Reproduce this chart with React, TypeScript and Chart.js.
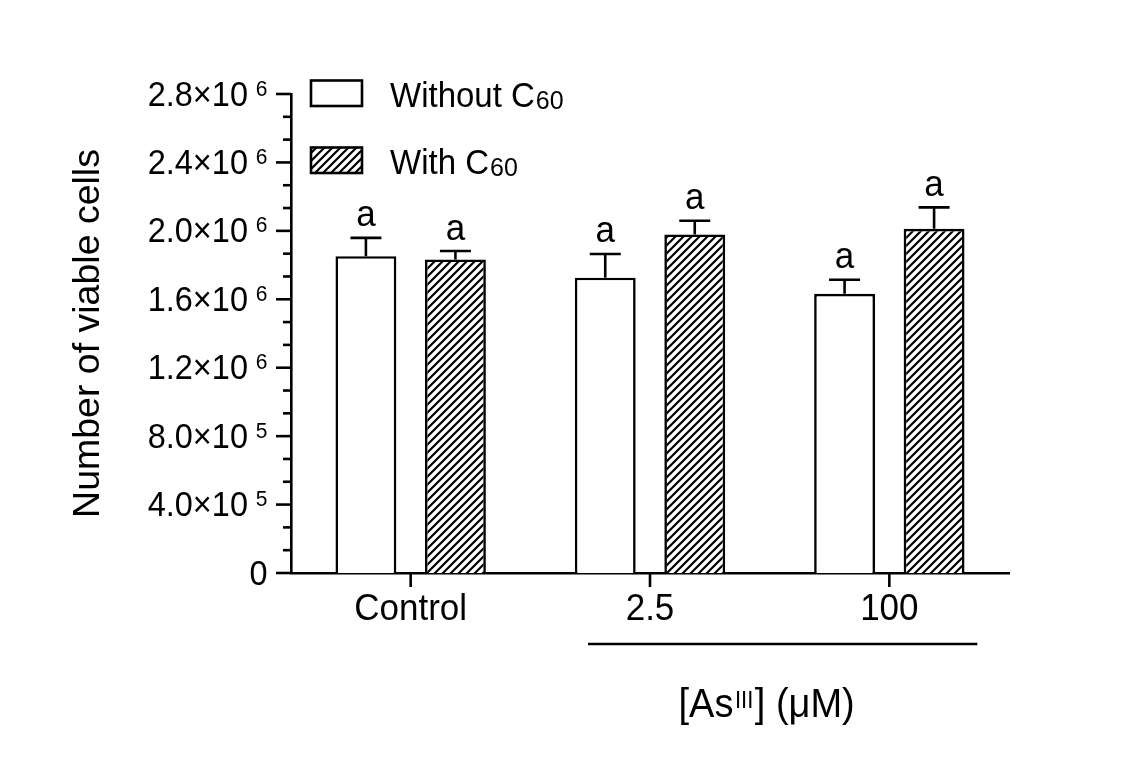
import React, { useEffect, useRef } from 'react';
import { Chart, registerables } from 'chart.js';

Chart.register(...registerables);

const categories = ['Control', '2.5', '100'];
const withoutC60 = [1.852e6, 1.726e6, 1.632e6];
const withoutC60Err = [1.07e5, 1.39e5, 0.82e5];
const withC60 = [1.833e6, 1.979e6, 2.012e6];
const withC60Err = [0.49e5, 0.8e5, 1.25e5];
const sigWithout = ['a', 'a', 'a'];
const sigWith = ['a', 'a', 'a'];
const seriesNames = ['Without C', 'With C'];
const seriesSubs = ['60', '60'];
const yMajorTicks = [0, 4e5, 8e5, 1.2e6, 1.6e6, 2.0e6, 2.4e6, 2.8e6];
const yTickMantissa = ['0', '4.0×10', '8.0×10', '1.2×10', '1.6×10', '2.0×10', '2.4×10', '2.8×10'];
const yTickExponent = ['', '5', '5', '6', '6', '6', '6', '6'];
const yMinorDivisions = 3;
const yTitle = 'Number of viable cells';
const xTitleMain = '[As';
const xTitleSup = 'III';
const xTitleTail = '] (μM)';

const FONT = '"Liberation Sans", Arial, sans-serif';

function makeHatch(): CanvasPattern | string {
  const c = document.createElement('canvas');
  const s = 8;
  c.width = s;
  c.height = s;
  const g = c.getContext('2d');
  if (!g) return '#fff';
  g.fillStyle = '#fff';
  g.fillRect(0, 0, s, s);
  g.strokeStyle = '#000';
  g.lineWidth = 2.2;
  g.beginPath();
  g.moveTo(-2, 2); g.lineTo(2, -2);
  g.moveTo(0, s); g.lineTo(s, 0);
  g.moveTo(s - 2, s + 2); g.lineTo(s + 2, s - 2);
  g.stroke();
  const p = g.createPattern(c, 'repeat');
  return p || '#fff';
}

// draw text with slight vertical stretch to mimic the reference glyph proportions
function stretchText(ctx: CanvasRenderingContext2D, text: string, x: number, y: number, sy: number) {
  ctx.save();
  ctx.translate(x, y);
  ctx.scale(1, sy);
  ctx.fillText(text, 0, 0);
  ctx.restore();
}

export default function App() {
  const ref = useRef<HTMLCanvasElement | null>(null);

  useEffect(() => {
    if (!ref.current) return;
    const hatch = makeHatch();

    const errs = [withoutC60Err, withC60Err];
    const sigs = [sigWithout, sigWith];
    const SY = 1.06;

    const decor = {
      id: 'decor',
      afterDatasetsDraw(chart: any) {
        const ctx = chart.ctx;
        const y = chart.scales.y;
        ctx.save();
        ctx.strokeStyle = '#000';
        ctx.fillStyle = '#000';
        ctx.lineWidth = 2.6;
        chart.data.datasets.forEach((ds: any, di: number) => {
          const meta = chart.getDatasetMeta(di);
          meta.data.forEach((bar: any, i: number) => {
            const v = ds.data[i];
            const top = y.getPixelForValue(v + errs[di][i]);
            const x = bar.x;
            ctx.beginPath();
            ctx.moveTo(x, bar.y);
            ctx.lineTo(x, top);
            ctx.moveTo(x - 15.5, top);
            ctx.lineTo(x + 15.5, top);
            ctx.stroke();
            ctx.font = `35px ${FONT}`;
            ctx.textAlign = 'center';
            ctx.textBaseline = 'alphabetic';
            stretchText(ctx, sigs[di][i], x, top - 11.5, SY);
          });
        });
        ctx.restore();
      },
      afterDraw(chart: any) {
        const ctx = chart.ctx;
        const y = chart.scales.y;
        const x = chart.scales.x;
        const area = chart.chartArea;
        const left = area.left;
        const bottom = area.bottom;
        ctx.save();
        ctx.strokeStyle = '#000';
        ctx.fillStyle = '#000';
        ctx.lineWidth = 2.6;
        // y ticks
        yMajorTicks.forEach((v, i) => {
          const py = y.getPixelForValue(v);
          ctx.beginPath();
          ctx.moveTo(left - 15, py);
          ctx.lineTo(left, py);
          ctx.stroke();
          if (i < yMajorTicks.length - 1) {
            const nv = yMajorTicks[i + 1];
            for (let k = 1; k < yMinorDivisions; k++) {
              const mp = y.getPixelForValue(v + ((nv - v) * k) / yMinorDivisions);
              ctx.beginPath();
              ctx.moveTo(left - 8, mp);
              ctx.lineTo(left, mp);
              ctx.stroke();
            }
          }
          // label
          const exp = yTickExponent[i];
          ctx.textBaseline = 'alphabetic';
          if (exp) {
            ctx.textAlign = 'right';
            ctx.font = `21px ${FONT}`;
            stretchText(ctx, exp, left - 23.5, py + 1.5, SY);
            ctx.font = `32.5px ${FONT}`;
            stretchText(ctx, yTickMantissa[i], left - 43, py + 11.5, SY);
          } else {
            ctx.textAlign = 'right';
            ctx.font = `32.5px ${FONT}`;
            stretchText(ctx, yTickMantissa[i], left - 23.5, py + 11.5, SY);
          }
        });
        // x ticks & labels
        categories.forEach((c, i) => {
          const px = x.getPixelForValue(i);
          ctx.beginPath();
          ctx.moveTo(px, bottom);
          ctx.lineTo(px, bottom + 14);
          ctx.stroke();
          ctx.font = `35px ${FONT}`;
          ctx.textAlign = 'center';
          ctx.textBaseline = 'alphabetic';
          stretchText(ctx, c, px, bottom + 46.5, SY);
        });
        // grouping line under AsIII concentrations
        const x1 = x.getPixelForValue(1);
        const x2 = x.getPixelForValue(2);
        ctx.beginPath();
        ctx.moveTo(x1 - 62, bottom + 71);
        ctx.lineTo(x2 + 88, bottom + 71);
        ctx.stroke();
        // x title
        {
          ctx.textAlign = 'left';
          ctx.font = `38px ${FONT}`;
          const w1 = ctx.measureText(xTitleMain).width;
          const w3 = ctx.measureText(xTitleTail).width;
          ctx.font = `22px ${FONT}`;
          const w2 = ctx.measureText(xTitleSup).width;
          const total = w1 + w2 + 3 + w3;
          const cx = (x1 + x2) / 2 - 3;
          let sx = cx - total / 2;
          const base = bottom + 144;
          ctx.font = `38px ${FONT}`;
          stretchText(ctx, xTitleMain, sx, base, SY);
          sx += w1 + 1.5;
          ctx.font = `22px ${FONT}`;
          stretchText(ctx, xTitleSup, sx, base - 9, SY);
          sx += w2 + 1.5;
          ctx.font = `38px ${FONT}`;
          stretchText(ctx, xTitleTail, sx, base, SY);
        }
        // y title
        ctx.save();
        ctx.translate(99, (area.top + area.bottom) / 2);
        ctx.rotate(-Math.PI / 2);
        ctx.font = `37.5px ${FONT}`;
        ctx.textAlign = 'center';
        ctx.textBaseline = 'alphabetic';
        ctx.fillText(yTitle, 0, 0);
        ctx.restore();
        // legend
        const fills = [chart.data.datasets[0].backgroundColor, chart.data.datasets[1].backgroundColor];
        [80.5, 147.5].forEach((ty, i) => {
          const bx = 311;
          ctx.fillStyle = fills[i];
          ctx.fillRect(bx, ty, 51, 25.5);
          ctx.lineWidth = 2.6;
          ctx.strokeRect(bx, ty, 51, 25.5);
          ctx.fillStyle = '#000';
          ctx.textAlign = 'left';
          ctx.textBaseline = 'alphabetic';
          ctx.font = `33px ${FONT}`;
          stretchText(ctx, seriesNames[i], 390, ty + 26, SY);
          const w = ctx.measureText(seriesNames[i]).width;
          ctx.font = `25px ${FONT}`;
          stretchText(ctx, seriesSubs[i], 390 + w + 1, ty + 28, SY);
        });
        ctx.restore();
      },
    };

    const chart = new Chart(ref.current, {
      type: 'bar',
      data: {
        labels: categories,
        datasets: [
          {
            label: seriesNames[0] + seriesSubs[0],
            data: withoutC60,
            backgroundColor: '#ffffff',
            borderColor: '#000000',
            borderWidth: 2.6,
            categoryPercentage: 0.748,
            barPercentage: 0.68,
          },
          {
            label: seriesNames[1] + seriesSubs[1],
            data: withC60,
            backgroundColor: hatch as any,
            borderColor: '#000000',
            borderWidth: 2.6,
            categoryPercentage: 0.748,
            barPercentage: 0.68,
          },
        ],
      },
      options: {
        animation: false,
        responsive: true,
        maintainAspectRatio: false,
        layout: { padding: { top: 94, right: 122, left: 0, bottom: 0 } },
        plugins: {
          legend: { display: false },
          tooltip: { enabled: false },
        },
        scales: {
          x: {
            grid: { display: false },
            border: { display: true, color: '#000', width: 2.6 },
            ticks: { display: false },
            afterFit: (s: any) => { s.height = 203; },
          },
          y: {
            min: 0,
            max: 2.8e6,
            grid: { display: false },
            border: { display: true, color: '#000', width: 2.6 },
            ticks: { display: false, stepSize: 4e5 },
            afterFit: (s: any) => { s.width = 291; },
          },
        },
      },
      plugins: [decor],
    });

    return () => chart.destroy();
  }, []);

  return (
    <div style={{ position: 'fixed', left: 0, top: 0, width: 1131, height: 776, background: '#fff' }}>
      <canvas ref={ref} />
    </div>
  );
}
